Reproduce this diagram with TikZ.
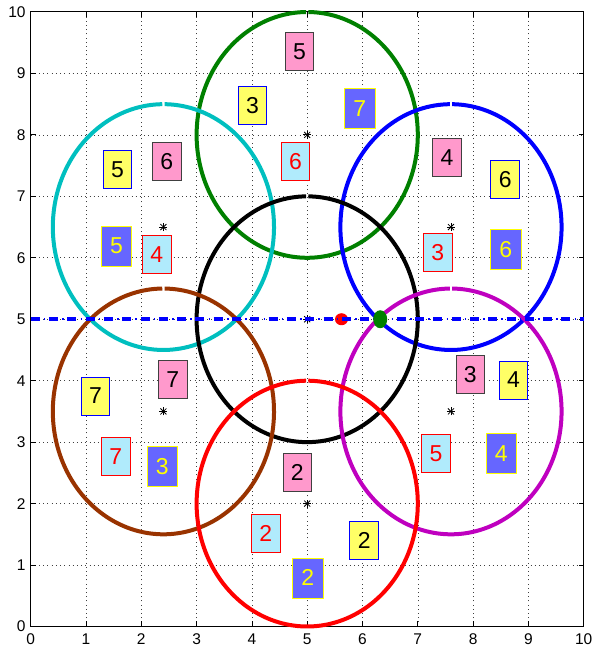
\documentclass[tikz,border=0pt]{standalone}
\usepackage{fontspec}
\setmainfont{Liberation Sans}
\definecolor{cgreen}{rgb}{0,0.5,0}
\definecolor{ccyan}{rgb}{0,0.75,0.75}
\definecolor{cblue}{rgb}{0,0,1}
\definecolor{cbrown}{rgb}{0.6,0.2,0}
\definecolor{cred}{rgb}{1,0,0}
\definecolor{cmag}{rgb}{0.75,0,0.75}
\definecolor{fpink}{rgb}{1,0.6,0.8}
\definecolor{fyel}{rgb}{1,1,0.4}
\definecolor{fblue}{rgb}{0.4,0.4,1}
\definecolor{fcyan}{rgb}{0.69,0.92,0.99}
\definecolor{tyel}{rgb}{1,1,0}
\begin{document}
\begin{tikzpicture}[x=55.3pt,y=61.45pt,
  griddot/.style={line width=0.6pt, black!75, dash pattern=on 0.8pt off 3.4pt},
  circ/.style={line width=4pt},
  numbox/.style={rectangle, line width=0.9pt, inner sep=0pt, minimum width=28.5pt, minimum height=38pt,
    font=\fontsize{23}{23}\selectfont},
  pinkbox/.style={numbox, fill=fpink, draw=black!75, text=black},
  yelbox/.style={numbox, fill=fyel, draw=cblue, text=black},
  bluebox/.style={numbox, fill=fblue, draw=tyel, text=tyel, minimum width=30.5pt, minimum height=40pt},
  cyanbox/.style={numbox, fill=fcyan, draw=cred, text=cred},
  ticklab/.style={font=\fontsize{15.5}{15.5}\selectfont, inner sep=0pt},
  starmark/.style={line width=0.8pt, black}
]
\useasboundingbox (-30.7pt,-26.5pt) rectangle (564.3pt,626.5pt);
% grid
\foreach \i in {1,...,9} {
  \draw[griddot] (\i,0) -- (\i,10);
  \draw[griddot] (0,\i) -- (10,\i);
}
% axes box and ticks
\draw[line width=1pt] (0,0) rectangle (10,10);
\foreach \i in {1,...,9} {
  \draw[line width=0.8pt] (\i,0) -- ++(0,5pt);
  \draw[line width=0.8pt] (\i,10) -- ++(0,-5pt);
  \draw[line width=0.8pt] (0,\i) -- ++(5pt,0);
  \draw[line width=0.8pt] (10,\i) -- ++(-5pt,0);
}
\foreach \i in {0,...,10} {
  \node[ticklab, anchor=north] (xl\i) at ([yshift=-7pt]\i,0) {\i};
  \node[ticklab, anchor=east] (yl\i) at ([xshift=-5pt]0,\i) {\i};
}
% circles
\foreach \cx/\cy/\col in {5/8/cgreen, 2.4/6.5/ccyan, 7.6/6.5/cblue, 5/5/black, 2.4/3.5/cbrown, 7.6/3.5/cmag, 5/2/cred} {
  \draw[circ, \col] plot[domain=90.6:449.4, samples=180, smooth] ({\cx+2*cos(\x)},{\cy+2*sin(\x)});
}
% centre stars
\foreach \cx/\cy [count=\k] in {5/8, 2.4/6.5, 7.6/6.5, 5/5, 2.4/3.5, 7.6/3.5, 5/2} {
  \coordinate (s\k) at (\cx,\cy);
  \draw[starmark] ([xshift=-4pt]s\k) -- ([xshift=4pt]s\k);
  \draw[starmark] ([yshift=-4pt]s\k) -- ([yshift=4pt]s\k);
  \draw[starmark] ([shift={(-3pt,-3pt)}]s\k) -- ([shift={(3pt,3pt)}]s\k);
  \draw[starmark] ([shift={(-3pt,3pt)}]s\k) -- ([shift={(3pt,-3pt)}]s\k);
}
% red marker
\fill[cred] (5.62,5) ellipse [x radius=6.5pt, y radius=6pt];
% dash-dot line
\coordinate (la) at (0,5);
\coordinate (lb) at (10,5);
\draw[cblue, line width=4pt, dash pattern=on 9pt off 9.3pt] (la) -- (lb);
\draw[cblue, line width=2pt, dash pattern=on 1.6pt off 16.7pt, dash phase=5.1pt] (la) -- (lb);
% green marker
\fill[cgreen] (6.32,5) ellipse [x radius=7pt, y radius=9pt];
% boxes
\node[pinkbox] (p5) at (4.86,9.35) {5};
\node[yelbox] (y3) at (4.01,8.48) {3};
\node[yelbox] (y5) at (1.57,7.43) {5};
\node[pinkbox] (p6) at (2.46,7.56) {6};
\node[cyanbox] (c6) at (4.79,7.56) {6};
\node[bluebox] (b5) at (1.55,6.19) {5};
\node[cyanbox] (c4) at (2.28,6.05) {4};
\node[bluebox] (b7) at (5.95,8.43) {7};
\node[pinkbox] (p4) at (7.53,7.63) {4};
\node[yelbox] (y6) at (8.58,7.28) {6};
\node[cyanbox] (c3) at (7.36,6.09) {3};
\node[bluebox] (b6) at (8.59,6.14) {6};
\node[yelbox] (y7) at (1.17,3.75) {7};
\node[pinkbox] (p7) at (2.57,4.02) {7};
\node[cyanbox] (c7) at (1.54,2.77) {7};
\node[bluebox] (b3) at (2.38,2.61) {3};
\node[pinkbox] (p2) at (4.82,2.50) {2};
\node[cyanbox] (c2) at (4.25,1.51) {2};
\node[bluebox] (b2) at (5.01,0.79) {2};
\node[pinkbox] (p3) at (7.95,4.10) {3};
\node[yelbox] (y4) at (8.73,4.01) {4};
\node[cyanbox] (c5) at (7.33,2.82) {5};
\node[bluebox] (b4) at (8.51,2.82) {4};
\node[yelbox] (y2) at (6.03,1.40) {2};
\end{tikzpicture}
\end{document}
